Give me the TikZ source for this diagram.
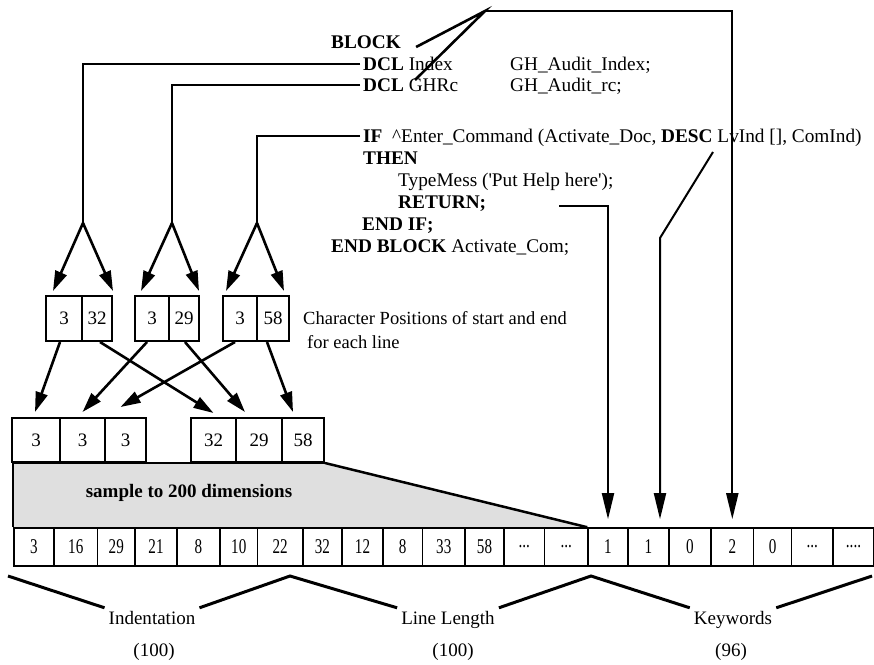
\documentclass[tikz,border=0pt]{standalone}
\usepackage{fontspec}
\setmainfont{Liberation Serif}
\newfontfamily\narrowfont[FakeStretch=0.72]{Liberation Serif}
\usetikzlibrary{arrows.meta, positioning, calc, backgrounds}
\newcommand{\threedots}{...}
\newcommand{\fourdots}{....}

\begin{document}
\begin{tikzpicture}[x=1pt, y=-1pt,
  code/.style={anchor=west, inner sep=3pt, text height=12pt, text depth=0pt, font=\fontsize{19.3}{22}\selectfont},
  box/.style={draw, line width=2pt, minimum height=45pt, inner sep=0pt, font=\fontsize{19}{22}\selectfont},
  cell/.style={draw, line width=1.6pt, minimum height=38pt, inner sep=0pt, font=\narrowfont\fontsize{21}{22}\selectfont},
  fork/.style={line width=2.6pt, -{Triangle[length=20pt,width=12pt]}},
  ptr/.style={line width=2pt, -{Triangle[length=26pt,width=12pt]}, shorten >=8pt},
  wire/.style={line width=2pt},
  brace/.style={line width=3pt},
  lbl/.style={inner sep=4pt, text height=12pt, text depth=0pt, font=\fontsize{19}{22}\selectfont}]
  \useasboundingbox (0,0) rectangle (874,664);

  % program text
  \node[code] (blk) at (328,42) {\textbf{BLOCK}};
  \node[code] (dclidx) at (360,64) {\textbf{DCL} Index};
  \node[code] (gh1) at (507,64) {GH\_Audit\_Index;};
  \node[code] (dclghr) at (360,85) {\textbf{DCL} GHRc};
  \node[code] (gh2) at (507,85) {GH\_Audit\_rc;};
  \node[code] (ifln) at (360,136) {\textbf{IF}\ \ \textasciicircum Enter\_Command (Activate\_Doc, \textbf{DESC} LvInd [], ComInd)};
  \node[code] (thenln) at (360,158) {\textbf{THEN}};
  \node[code] (typeln) at (395,180) {TypeMess (\textquotesingle Put Help here\textquotesingle);};
  \node[code] (retln) at (395,202) {\textbf{RETURN;}};
  \node[code] (endif) at (359,224) {\textbf{END IF;}};
  \node[code] (endblk) at (328,246) {\textbf{END BLOCK} Activate\_Com;};

  % start/end pairs
  \node[box, minimum width=36pt] (m1a) at (64,318.5) {3};
  \node[box, minimum width=30pt] (m1b) at (97,318.5) {32};
  \node[box, minimum width=34pt] (m2a) at (152,318.5) {3};
  \node[box, minimum width=30pt] (m2b) at (184,318.5) {29};
  \node[box, minimum width=34pt] (m3a) at (240,318.5) {3};
  \node[box, minimum width=32pt] (m3b) at (273,318.5) {58};
  \node[anchor=west, align=left, inner sep=0pt, font=\fontsize{18.5}{24}\selectfont] (charpos) at (303,330)
    {Character Positions of start and end\\\hspace{4pt}for each line};

  % grouped values
  \node[box, minimum width=48pt, minimum height=44pt] (l1) at (36,440) {3};
  \node[box, minimum width=45pt, minimum height=44pt] (l2) at (82.5,440) {3};
  \node[box, minimum width=41pt, minimum height=44pt] (l3) at (125.5,440) {3};
  \node[box, minimum width=45pt, minimum height=44pt] (u1) at (213.5,440) {32};
  \node[box, minimum width=46pt, minimum height=44pt] (u2) at (259,440) {29};
  \node[box, minimum width=42pt, minimum height=44pt] (u3) at (303,440) {58};

  % feature vector
  \foreach \i/\a/\b/\t in {1/14/54/3, 2/54/97.5/16, 3/97.5/135/29, 4/135/177/21, 5/177/220/8,
      6/220/257.5/10, 7/257.5/302.7/22, 8/302.7/342/32, 9/342/383/12, 10/383/422.5/8,
      11/422.5/465/33, 12/465/504/58, 13/504/544.6/\threedots, 14/544.6/588/\threedots, 15/588/628/1,
      16/628/669/1, 17/669/711/0, 18/711/753.6/2, 19/753.6/791.5/0, 20/791.5/833/\threedots, 21/833/874/\fourdots}
    \node[cell, minimum width={\b-\a}] (r\i) at ({(\a+\b)/2},547) {\t};

  \begin{scope}[on background layer]
    \fill[gray!25] (r1.north west |- l1.south) -- (u3.south east) -- (r15.north west) -- (r1.north west) -- cycle;
  \end{scope}
  \draw[line width=1.5pt] (r1.north west) -- (r1.north west |- l1.south) -- (u3.south east);
  \draw[line width=2.5pt] (u3.south east) -- (r15.north west);
  \node[font=\bfseries\fontsize{19}{22}\selectfont] (sample) at (189,493) {sample to 200 dimensions};

  % line markers down to the pairs
  \coordinate (f1) at (83,223);
  \coordinate (f2) at (172,223);
  \coordinate (f3) at (257,223);
  \draw[wire] (dclidx.west) -| (f1);
  \draw[wire] (dclghr.west) -| (f2);
  \draw[wire] (ifln.west) -| (f3);
  \draw[fork] (f1) -- ($(m1a.north west)+(8,-4)$);
  \draw[fork] (f1) -- ($(m1b.north east)+(0,-4)$);
  \draw[fork] (f2) -- ($(m2a.north west)+(7,-4)$);
  \draw[fork] (f2) -- ($(m2b.north east)+(-1,-4)$);
  \draw[fork] (f3) -- ($(m3a.north west)+(4,-4)$);
  \draw[fork] (f3) -- ($(m3b.north east)+(-6,-4)$);

  % pairs split into starts and ends
  \draw[fork] ([xshift=-4pt]m1a.south) -- ([xshift=-1pt,yshift=5pt]l1.north);
  \draw[fork] ([xshift=3pt]m1b.south) -- ([yshift=4pt]u1.north);
  \draw[fork] ([xshift=-5pt]m2a.south) -- ([yshift=5pt]l2.north);
  \draw[fork] ([xshift=1pt]m2b.south) -- ([xshift=-14pt,yshift=5pt]u2.north);
  \draw[fork] ([xshift=-5pt]m3a.south) -- ([xshift=-5pt,yshift=10pt]l3.north);
  \draw[fork] ([xshift=-6pt]m3b.south) -- ([xshift=-10pt,yshift=5pt]u3.north);

  % keyword pointers
  \coordinate (peak) at (485,11);
  \coordinate (ghrtip) at (415,80);
  \coordinate (lvtip) at (713,152);
  \coordinate (lvbend) at (660,238);
  \draw[line width=2.6pt] ([xshift=12pt,yshift=-5pt]blk.east) -- (peak) -- (ghrtip);
  \draw[ptr] (peak) -| (r18.north);
  \draw[ptr] (lvtip) -- (lvbend) -- (lvbend |- r16.north);
  \draw[ptr] ([xshift=70pt,yshift=-4pt]retln.east) -| (r15.north);

  % ranges
  \node[lbl] (lbind) at (152,618) {Indentation};
  \node[lbl] (lblen) at (448,618) {Line Length};
  \node[lbl] (lbkey) at (733,618) {Keywords};
  \node[lbl] (cnt1) at (154,650) {(100)};
  \node[lbl] (cnt2) at (453,650) {(100)};
  \node[lbl] (cnt3) at (731,650) {(96)};
  \coordinate (bl) at (8,576);
  \coordinate (pk1) at (290,576);
  \coordinate (pk2) at (591,576);
  \coordinate (br) at (872,576);
  \draw[brace] (bl) -- (lbind.north west);
  \draw[brace] (lbind.north east) -- (pk1) -- (lblen.north west);
  \draw[brace] (lblen.north east) -- (pk2) -- (lbkey.north west);
  \draw[brace] (lbkey.north east) -- (br);
\end{tikzpicture}
\end{document}
